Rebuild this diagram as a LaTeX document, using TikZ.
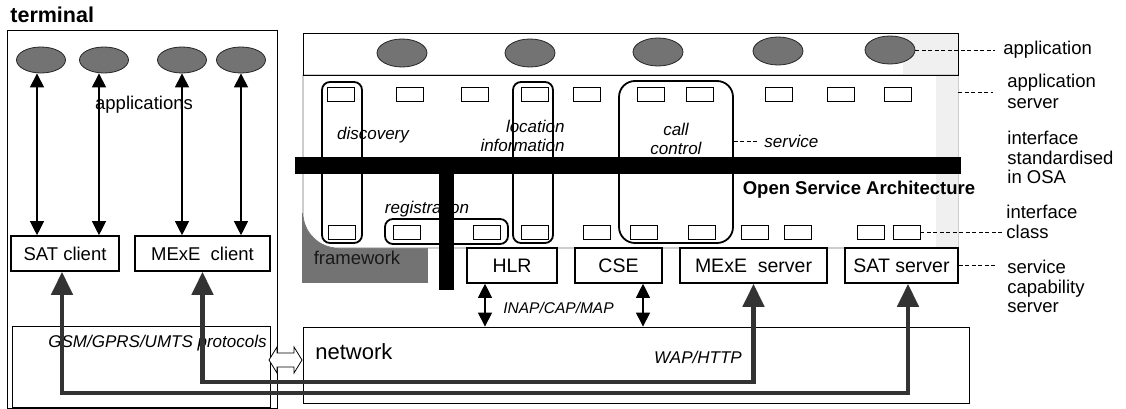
\documentclass[tikz,border=0pt]{standalone}
\usepackage{fontspec}
\setmainfont{Liberation Sans}
\setsansfont{Liberation Sans}
\usetikzlibrary{arrows.meta, shapes.geometric}
\tikzset{
  every picture/.style={font=\fontsize{18.5}{19.5}\selectfont, line width=0.8pt},
  box/.style={draw, fill=white, line width=1.6pt, inner sep=0pt, minimum height=35pt, minimum width=#1},
  box/.default=100pt,
  iface/.style={draw, fill=white, line width=0.8pt, inner sep=0pt, minimum width=27pt, minimum height=14pt},
  app/.style={ellipse, draw=black!85, fill=black!55, inner sep=0pt, minimum width=50pt, minimum height=28pt},
  grp/.style={draw, line width=1.8pt, rounded corners=#1, inner sep=0pt},
  grp/.default=8pt,
  lbl/.style={font=\fontsize{17}{18.5}\selectfont\itshape, inner sep=0pt, align=center},
  side/.style={inner sep=0pt, align=left, anchor=north west},
  lead/.style={dash pattern=on 4pt off 2.5pt, line width=0.8pt},
  thin arrow/.style={{Triangle[length=14pt,width=14pt]}-{Triangle[length=14pt,width=14pt]}, line width=1.1pt},
  fat arrow/.style={{Triangle[length=23pt,width=21pt]}-{Triangle[length=23pt,width=21pt]}, line width=4.5pt, draw=black!80},
}

\begin{document}
\begin{tikzpicture}[x=1pt, y=-1pt]
  \useasboundingbox (0,0) rectangle (1126,409);
  % terminal
  \node[anchor=west, font=\fontsize{21.5}{24}\selectfont\bfseries, inner sep=0pt] (termlbl) at (10,15) {terminal};
  \node[draw, minimum width=270pt, minimum height=378pt, inner sep=0pt] (term) at (142,219) {};
  \node[app, minimum width=49pt, minimum height=26pt] (ta1) at (41,60) {};
  \node[app, minimum width=49pt, minimum height=26pt] (ta2) at (104,60) {};
  \node[app, minimum width=49pt, minimum height=26pt] (ta3) at (182,60) {};
  \node[app, minimum width=49pt, minimum height=26pt] (ta4) at (241,60) {};
  \node[inner sep=0pt] (appslbl) at (144,105) {applications};
  \node[box=108pt] (satc) at (65,253.5) {SAT client};
  \node[box=135pt] (mexc) at (202.5,253.5) {MExE\ \ client};
  \draw[thin arrow] ([xshift=-4pt]ta1.south) -- ([xshift=-4pt]ta1.south |- satc.north);
  \draw[thin arrow] ([xshift=-5pt]ta2.south) -- ([xshift=-5pt]ta2.south |- satc.north);
  \draw[thin arrow] (ta3.south) -- (ta3.south |- mexc.north);
  \draw[thin arrow] (ta4.south) -- (ta4.south |- mexc.north);
  \node[draw, minimum width=258pt, minimum height=81pt, inner sep=0pt] (gsm) at (141,366.5) {};
  \node[lbl, anchor=east] (gsmlbl) at (267,343) {GSM/GPRS/UMTS protocols};

  % application server and framework
  \node[fill=black!55, minimum width=126pt, minimum height=70pt, inner sep=0pt] (fw) at (365,248) {};
  \node[inner sep=0pt, text=black!90] (fwlbl) at (357,258) {framework};
  \filldraw[fill=white, draw=black!55, line width=0.6pt] (303,75) -- (303,213) .. controls (303,232) and (319,248) .. (338,248) -- (958,248) -- (958,75) -- cycle;
  \coordinate (asrv) at (958,92);
  \draw (303,33) rectangle (958,75);
  \fill[gray!12] (903,34) rectangle (957.5,74.5);
  \fill[gray!12] (936,76) rectangle (957.5,247.5);
  \node[app] (a1) at (402,53) {};
  \node[app] (a2) at (530,53) {};
  \node[app] (a3) at (658,52) {};
  \node[app] (a4) at (778,51) {};
  \node[app] (a5) at (890,50) {};

  % services
  \node[grp, minimum width=40pt, minimum height=161pt] (disc) at (342,162.5) {};
  \node[grp, minimum width=40pt, minimum height=161pt] (loc) at (533,162.5) {};
  \node[grp=16pt, minimum width=114pt, minimum height=162pt] (cc) at (676,162) {};
  \node[grp, minimum width=123pt, minimum height=25pt] (reg) at (446.5,231.5) {};
  \node[iface] (i1) at (340.5,94) {}; \node[iface] (i2) at (409.5,94) {}; \node[iface] (i3) at (474.5,94) {};
  \node[iface] (i4) at (534.5,94) {}; \node[iface] (i5) at (586.5,94) {}; \node[iface] (i6) at (650.5,94) {};
  \node[iface] (i7) at (699.5,94) {}; \node[iface] (i8) at (778.5,94) {}; \node[iface] (i9) at (840.5,94) {};
  \node[iface] (i10) at (897.5,94) {};
  \node[iface] (j1) at (341.5,232) {}; \node[iface] (j2) at (406.5,232) {}; \node[iface] (j3) at (486.5,232) {};
  \node[iface] (j4) at (534.5,232) {}; \node[iface] (j5) at (596.5,232) {}; \node[iface] (j6) at (643.5,232) {};
  \node[iface] (j7) at (701.5,232) {}; \node[iface] (j8) at (754.5,232) {}; \node[iface] (j9) at (797.5,232) {};
  \node[iface] (j10) at (870.5,232) {}; \node[iface] (j11) at (906.5,232) {};
  \node[lbl] (disclbl) at (373,135) {discovery};
  \node[lbl, anchor=east, align=right] (loclbl) at (565,136) {location\\information};
  \node[lbl] (cclbl) at (676,139) {call\\control};
  \node[lbl, anchor=west] (svclbl) at (764,141) {service};
  \node[lbl] (reglbl) at (427,209) {registration};
  \draw[lead, shorten >=7pt] (cc.east |- svclbl.west) -- (svclbl.west);

  % OSA interface
  \fill (295,157) rectangle (961,174);
  \fill (439,174) rectangle (454,290);
  \node[inner sep=0pt, font=\fontsize{18.5}{20}\selectfont\bfseries] (osa) at (859,190) {Open Service Architecture};

  % service capability servers
  \node[box=90pt, font=\fontsize{19.5}{20}\selectfont] (hlr) at (512,265.5) {HLR};
  \node[box=87pt, font=\fontsize{19.5}{20}\selectfont] (cse) at (618.5,265.5) {CSE};
  \node[box=147pt, font=\fontsize{19.5}{20}\selectfont] (mexs) at (753.5,265.5) {MExE\ \ server};
  \node[box=113pt, font=\fontsize{19.5}{20}\selectfont] (sats) at (901.5,265.5) {SAT server};

  % network
  \node[draw, minimum width=666pt, minimum height=76pt, inner sep=0pt] (net) at (636,365) {};
  \node[anchor=west, font=\fontsize{22}{24}\selectfont, inner sep=0pt] (netlbl) at (315,352) {network};
  \node[lbl, anchor=west, font=\fontsize{15.5}{18}\selectfont\itshape] (inap) at (503,308) {INAP/CAP/MAP};
  \node[lbl] (wap) at (698,357) {WAP/HTTP};
  \draw[thin arrow] ([xshift=-27pt]hlr.south) -- ([xshift=-27pt]hlr.south |- net.north);
  \draw[thin arrow] ([xshift=24.5pt]cse.south) -- ([xshift=24.5pt]cse.south |- net.north);
  \draw[fill=white] (269,360) -- (277,347) -- (277,353) -- (294,353) -- (294,347) -- (302,360)
    -- (294,373) -- (294,367) -- (277,367) -- (277,373) -- cycle;
  \coordinate (low1) at (0,393);
  \coordinate (low2) at (0,382);
  \draw[fat arrow] (mexc.south) -- (mexc.south |- low2) -| (mexs.south);
  \draw[fat arrow] ([xshift=-3pt]satc.south) -- ([xshift=-3pt]satc.south |- low1) -| ([xshift=6.5pt]sats.south);

  % legend
  \node[side, anchor=west] (applbl) at (1003,50) {application};
  \node[side, font=\fontsize{18.5}{20.5}\selectfont] (srvlbl) at (1007,74) {application\\server};
  \node[side] (osalbl) at (1007,131) {interface\\standardised\\in OSA};
  \node[side] (clslbl) at (1006,205) {interface\\class};
  \node[side] (caplbl) at (1007,260) {service\\capability\\server};
  \draw[lead, shorten >=8pt] (a5.east) -- (a5.east -| applbl.west);
  \draw[lead, shorten >=14pt] (asrv) -- (asrv -| srvlbl.west);
  \draw[lead, shorten >=3pt] (j11.east) -- (j11.east -| clslbl.west);
  \draw[lead, shorten >=12pt] (sats.east) -- (sats.east -| caplbl.west);
\end{tikzpicture}
\end{document}
